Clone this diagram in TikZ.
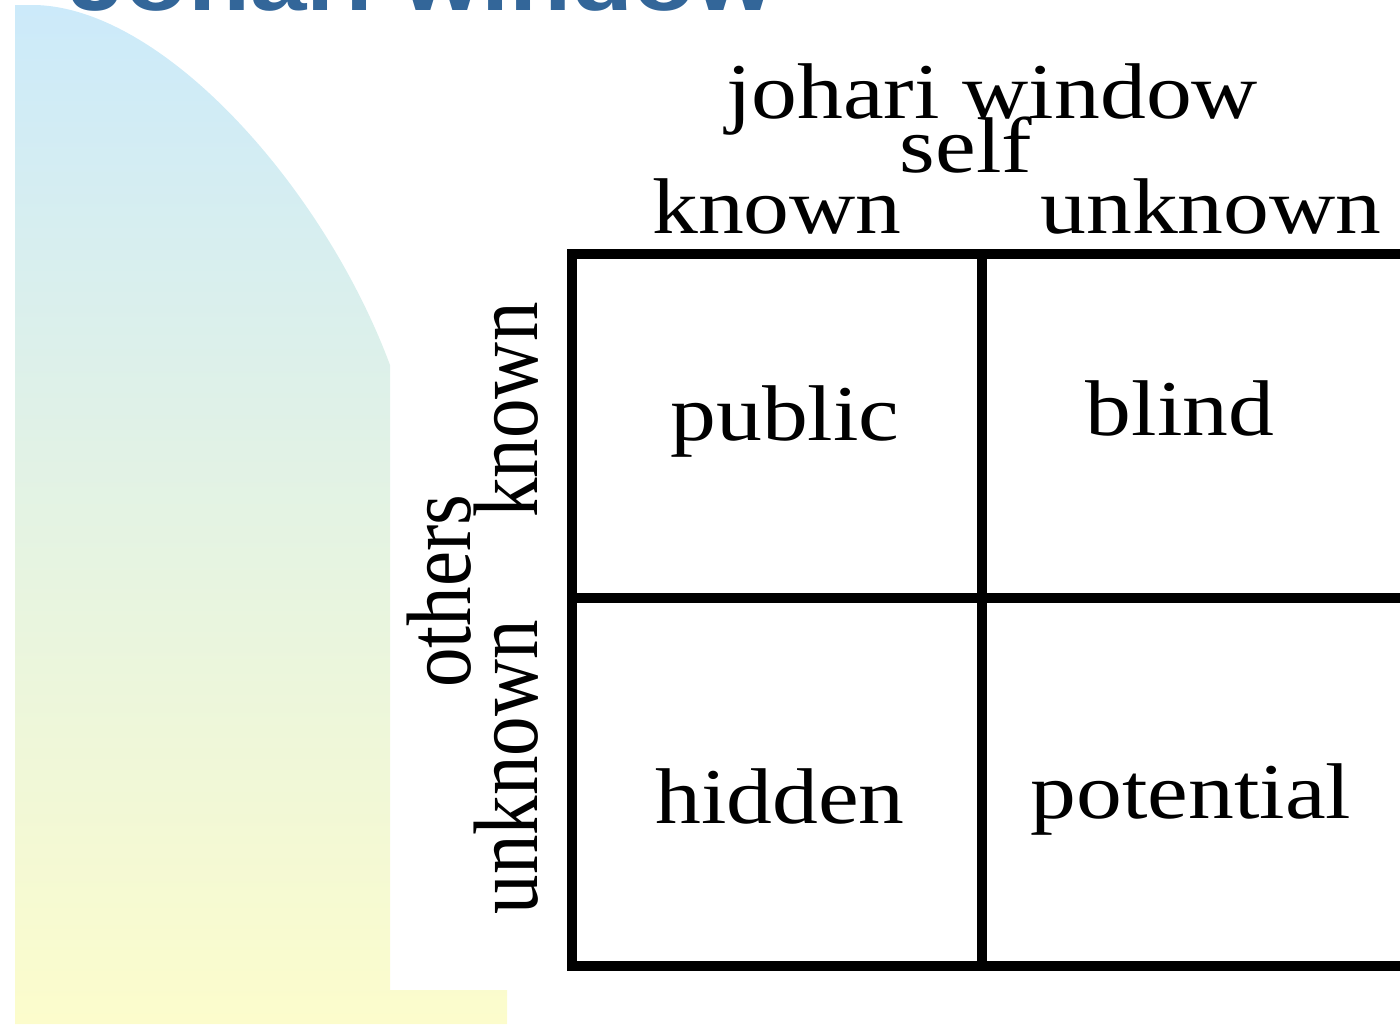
\documentclass[tikz,border=0pt]{standalone}
\usepackage{fontspec}
\usepackage{graphicx}
\setmainfont{Liberation Serif}
\newfontfamily\titlefont{Liberation Sans}
\definecolor{skyblue}{RGB}{204,234,250}
\definecolor{palemint}{RGB}{230,244,226}
\definecolor{paleyellow}{RGB}{252,252,204}
\definecolor{titleblue}{RGB}{51,102,153}
\newcommand{\wide}[1]{\scalebox{1.16}[1]{#1}}
\newcommand{\tall}[1]{\scalebox{1}[1.16]{#1}}
\begin{document}
\begin{tikzpicture}[x=1pt,y=-1pt,
  lbl/.style={inner sep=0pt, anchor=base, font=\fontsize{79}{79}\selectfont},
  vlbl/.style={lbl, rotate=90},
  gridline/.style={line width=9.5pt, black, line cap=rect}]
\clip (0,0) rectangle (1400,1026);
\useasboundingbox (0,0) rectangle (1400,1026);

% tinted backdrop on the left
\shade[top color=skyblue, middle color=palemint, bottom color=paleyellow]
  (15,1024) -- (15,5) -- (35,5) .. controls (165,8) and (325,190) .. (390,365)
  -- (390,990) -- (507,990) -- (507,1024) -- cycle;

% heading, running off the top edge
\node[inner sep=0pt, anchor=base, text=titleblue,
      font=\titlefont\bfseries\fontsize{87.5}{87.5}\selectfont]
  (heading) at (422,10) {\wide{Johari window}};

% column captions
\node[lbl] (caption) at (992,118) {\wide{johari window}};
\node[lbl] (self) at (966,172) {\wide{self}};
\node[lbl] (selfknown) at (777,233) {\wide{known}};
\node[lbl] (selfunknown) at (1211,233) {\wide{unknown}};

% row captions
\node[vlbl] (others) at (470,591) {\tall{others}};
\node[vlbl] (othersknown) at (537,410) {\tall{known}};
\node[vlbl] (othersunknown) at (537,767) {\tall{unknown}};

% the four panes
\draw[gridline] (1430,254) -- (572,254) -- (572,966) -- (1430,966);
\draw[gridline] (572,598) -- (1430,598);
\draw[gridline] (982,254) -- (982,966);

\node[lbl] (public) at (785,440) {\wide{public}};
\node[lbl] (blind) at (1180,435) {\wide{blind}};
\node[lbl] (hidden) at (780,823) {\wide{hidden}};
\node[lbl] (potential) at (1191,818) {\wide{potential}};
\end{tikzpicture}
\end{document}
